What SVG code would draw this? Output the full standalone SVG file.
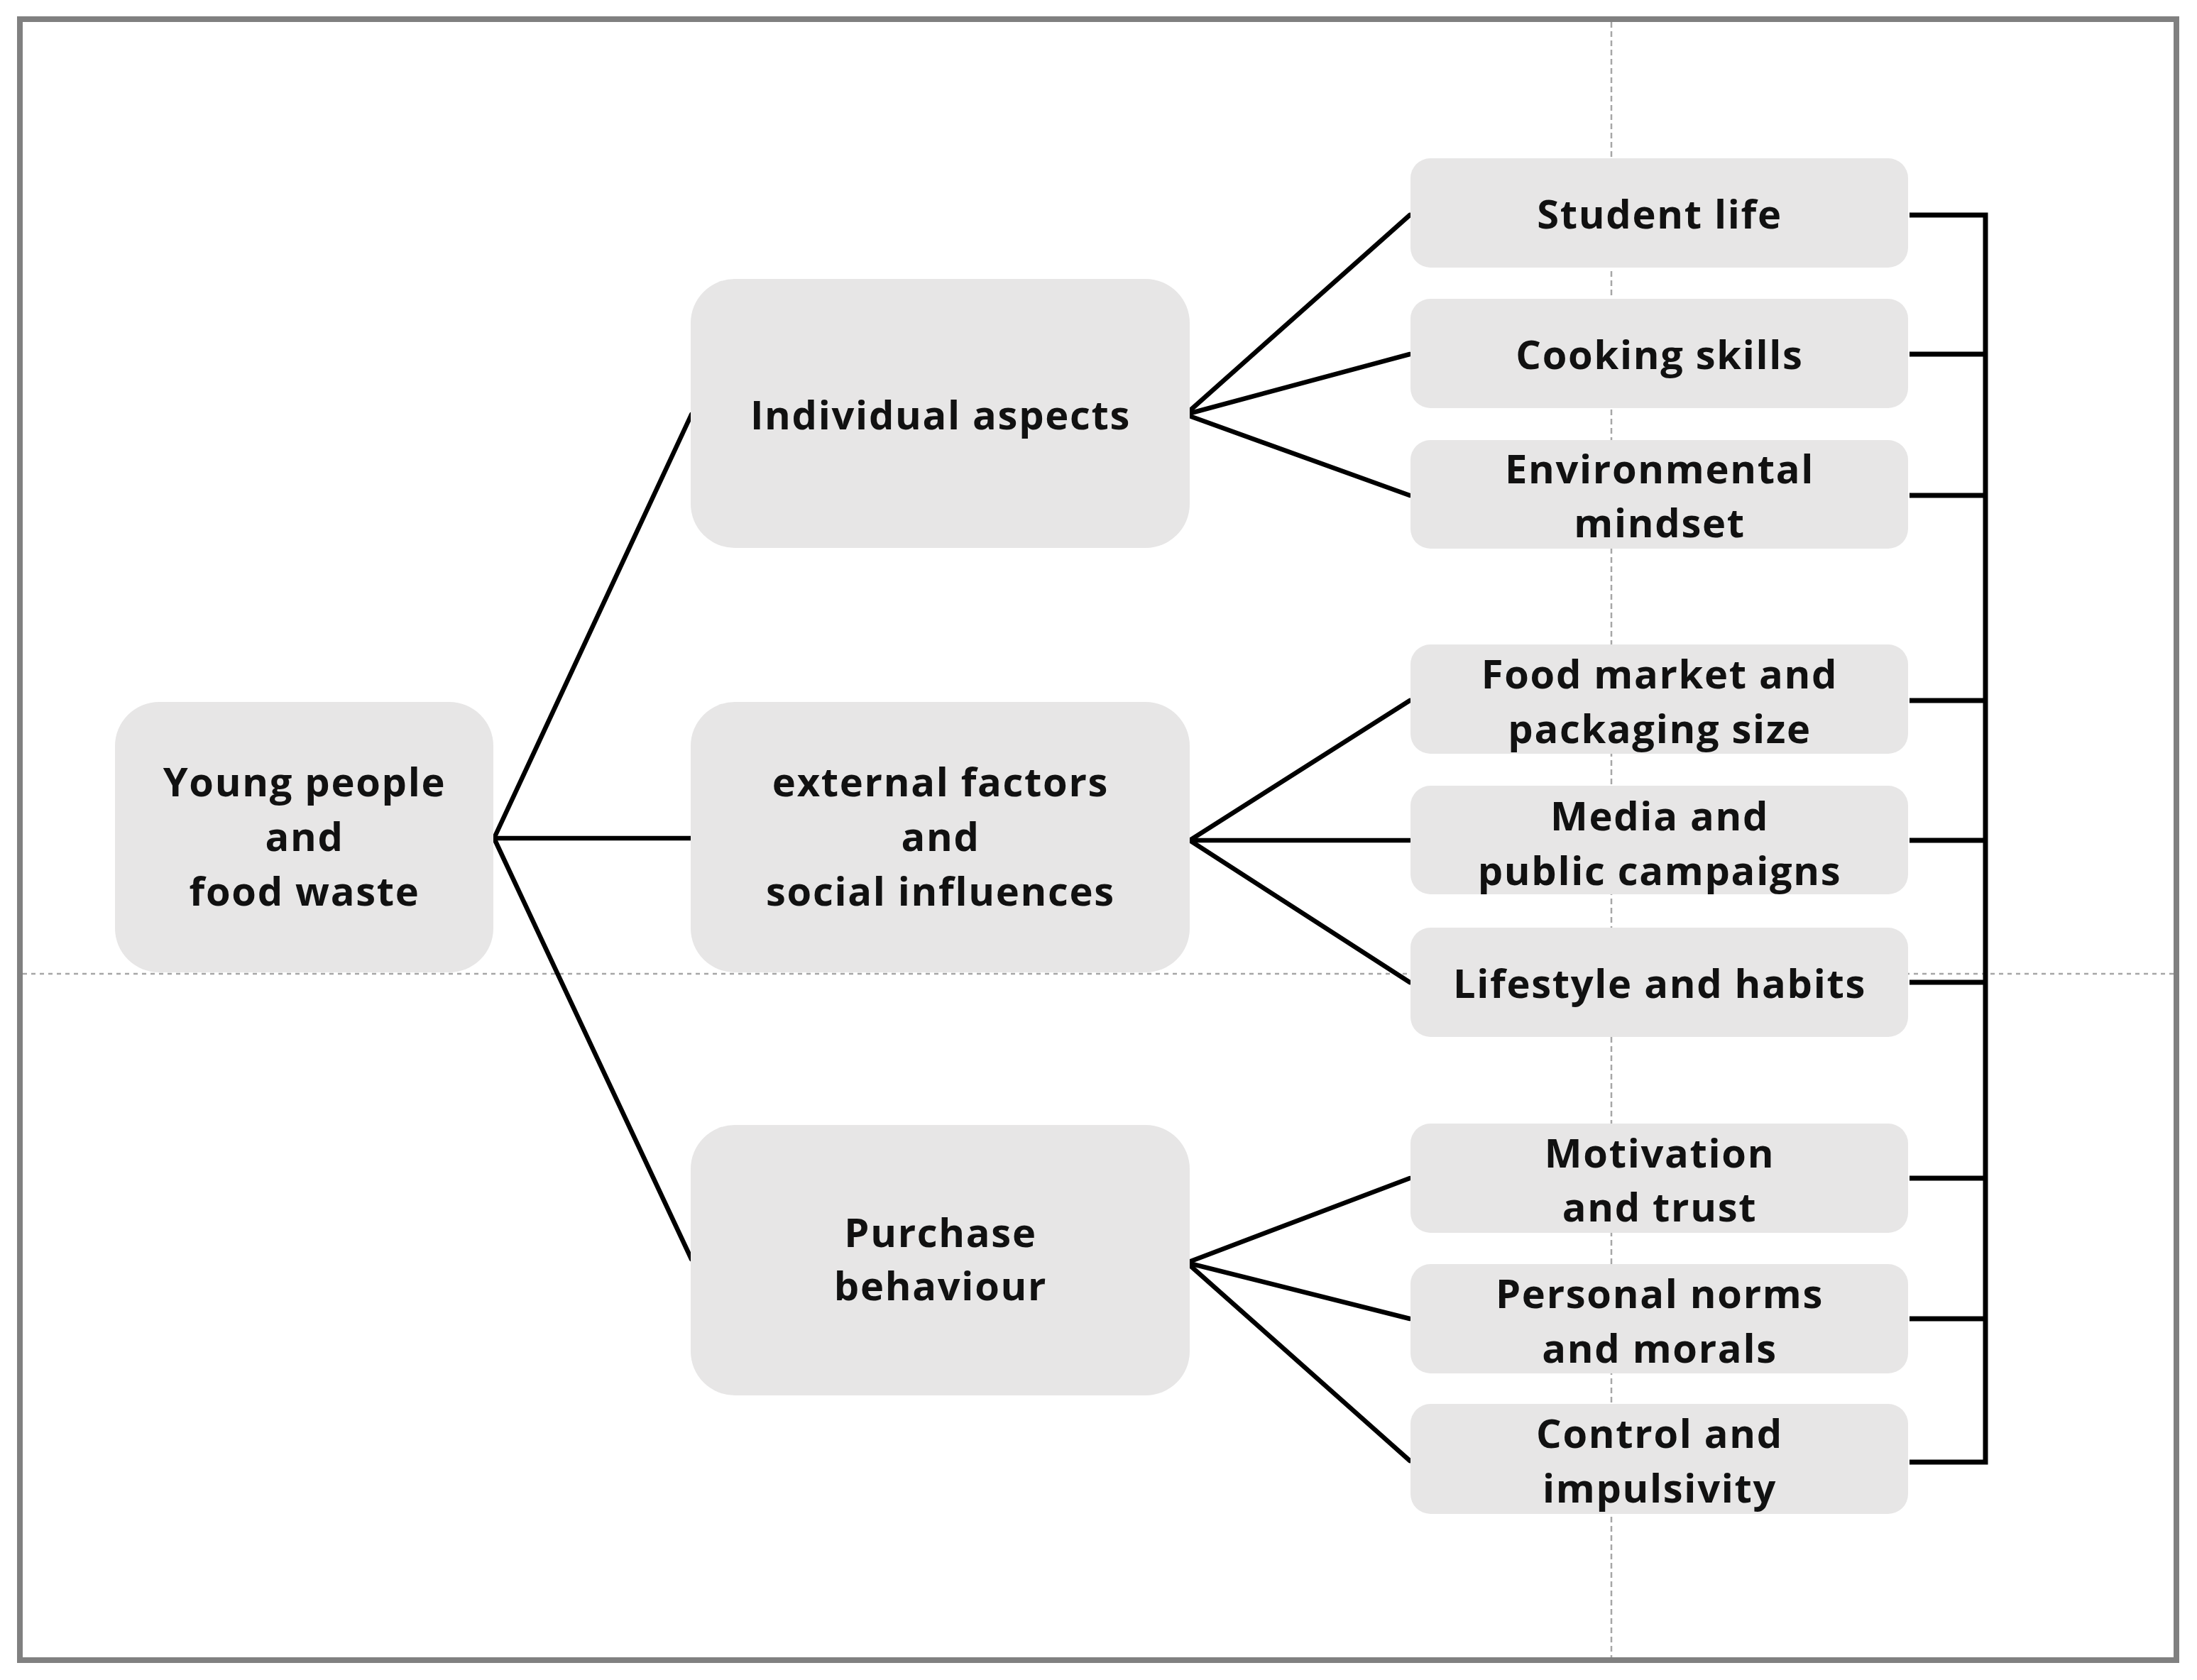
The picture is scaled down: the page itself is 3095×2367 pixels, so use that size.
<svg xmlns="http://www.w3.org/2000/svg" width="3095" height="2367" viewBox="0 0 3095 2367">
<style>
.box{fill:#e7e6e6;}
.t{font-family:"Open Sans","Liberation Sans",sans-serif;font-weight:bold;font-size:56px;letter-spacing:1.7px;fill:#111;text-anchor:middle;}
.c{stroke:#000;stroke-width:6.5;fill:none;stroke-linecap:round;}
.b{stroke:#000;stroke-width:7;fill:none;}
.g{stroke:#a6a6a6;stroke-width:2.5;fill:none;}
</style>
<rect x="0" y="0" width="3095" height="2367" fill="#fff"/>
<rect x="28" y="27" width="3038" height="2312" fill="none" stroke="#808080" stroke-width="8"/>
<g id="guides">
<line class="g" x1="2270" y1="31" x2="2270" y2="2335" stroke-dasharray="8,5"/>
<line class="g" x1="32" y1="1372" x2="3062" y2="1372" stroke-dasharray="6,6"/>
</g>
<g id="connectors">
<line class="c" x1="696" y1="1181" x2="974" y2="584"/>
<line class="c" x1="696" y1="1181" x2="974" y2="1181"/>
<line class="c" x1="696" y1="1181" x2="974" y2="1774"/>
<line class="c" x1="1670" y1="584" x2="1986" y2="303"/>
<line class="c" x1="1670" y1="584" x2="1986" y2="499"/>
<line class="c" x1="1670" y1="584" x2="1986" y2="698"/>
<line class="c" x1="1676" y1="1184" x2="1986" y2="987"/>
<line class="c" x1="1676" y1="1184" x2="1986" y2="1184"/>
<line class="c" x1="1676" y1="1184" x2="1986" y2="1384"/>
<line class="c" x1="1672" y1="1779" x2="1986" y2="1660"/>
<line class="c" x1="1672" y1="1779" x2="1986" y2="1858"/>
<line class="c" x1="1672" y1="1779" x2="1986" y2="2058"/>
<path class="b" d="M2690 303H2797V2060H2690"/>
<line class="b" x1="2690" y1="499" x2="2797" y2="499"/>
<line class="b" x1="2690" y1="698" x2="2797" y2="698"/>
<line class="b" x1="2690" y1="987" x2="2797" y2="987"/>
<line class="b" x1="2690" y1="1184" x2="2797" y2="1184"/>
<line class="b" x1="2690" y1="1384" x2="2797" y2="1384"/>
<line class="b" x1="2690" y1="1660" x2="2797" y2="1660"/>
<line class="b" x1="2690" y1="1858" x2="2797" y2="1858"/>
</g>
<g id="root">
<rect class="box" x="162" y="989" width="533" height="381" rx="62"/>
<text class="t" x="429" y="1122">Young people</text>
<text class="t" x="429" y="1199">and</text>
<text class="t" x="429" y="1276">food waste</text>
</g>
<g id="individual">
<rect class="box" x="973" y="393" width="703" height="379" rx="62"/>
<text class="t" x="1325" y="605">Individual aspects</text>
</g>
<g id="external">
<rect class="box" x="973" y="989" width="703" height="381" rx="62"/>
<text class="t" x="1325" y="1122">external factors</text>
<text class="t" x="1325" y="1199">and</text>
<text class="t" x="1325" y="1276">social influences</text>
</g>
<g id="purchase">
<rect class="box" x="973" y="1585" width="703" height="381" rx="62"/>
<text class="t" x="1325" y="1757">Purchase</text>
<text class="t" x="1325" y="1832">behaviour</text>
</g>
<g id="student">
<rect class="box" x="1987" y="223" width="701" height="154" rx="28"/>
<text class="t" x="2338" y="322">Student life</text>
</g>
<g id="cooking">
<rect class="box" x="1987" y="421" width="701" height="154" rx="28"/>
<text class="t" x="2338" y="520">Cooking skills</text>
</g>
<g id="environmental">
<rect class="box" x="1987" y="620" width="701" height="153" rx="28"/>
<text class="t" x="2338" y="681">Environmental</text>
<text class="t" x="2338" y="757">mindset</text>
</g>
<g id="foodmarket">
<rect class="box" x="1987" y="908" width="701" height="154" rx="28"/>
<text class="t" x="2338" y="970">Food market and</text>
<text class="t" x="2338" y="1047">packaging size</text>
</g>
<g id="media">
<rect class="box" x="1987" y="1107" width="701" height="153" rx="28"/>
<text class="t" x="2338" y="1170">Media and</text>
<text class="t" x="2338" y="1247">public campaigns</text>
</g>
<g id="lifestyle">
<rect class="box" x="1987" y="1307" width="701" height="154" rx="28"/>
<text class="t" x="2338" y="1406">Lifestyle and habits</text>
</g>
<g id="motivation">
<rect class="box" x="1987" y="1583" width="701" height="154" rx="28"/>
<text class="t" x="2338" y="1645">Motivation</text>
<text class="t" x="2338" y="1721">and trust</text>
</g>
<g id="personal">
<rect class="box" x="1987" y="1781" width="701" height="154" rx="28"/>
<text class="t" x="2338" y="1843">Personal norms</text>
<text class="t" x="2338" y="1920">and morals</text>
</g>
<g id="control">
<rect class="box" x="1987" y="1978" width="701" height="155" rx="28"/>
<text class="t" x="2338" y="2040">Control and</text>
<text class="t" x="2338" y="2117">impulsivity</text>
</g>
</svg>
